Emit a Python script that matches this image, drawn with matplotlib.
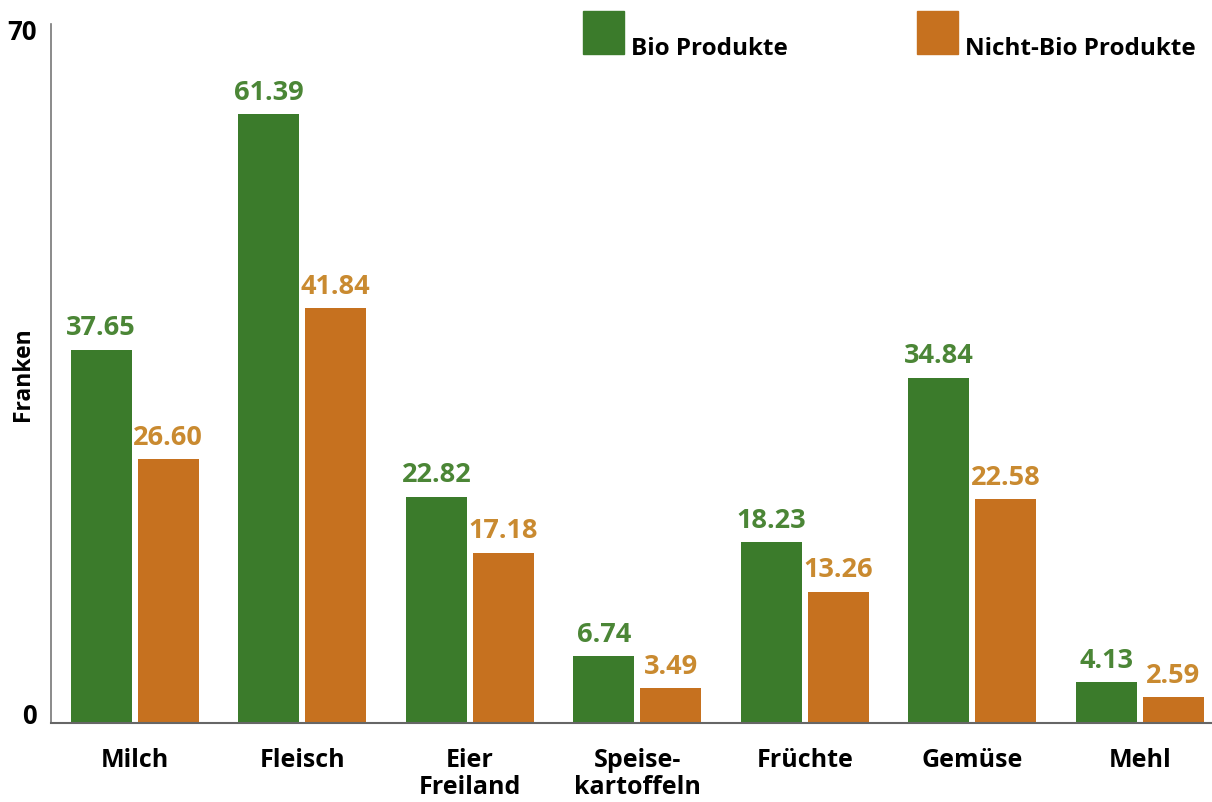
import numpy as np
import matplotlib.pyplot as plt
from matplotlib.patches import Rectangle
from matplotlib.transforms import ScaledTranslation

categories = ["Milch", "Fleisch", "Eier\nFreiland", "Speise-\nkartoffeln",
              "Früchte", "Gemüse", "Mehl"]
bio = [37.65, 61.39, 22.82, 6.74, 18.23, 34.84, 4.13]
nicht_bio = [26.60, 41.84, 17.18, 3.49, 13.26, 22.58, 2.59]
bio_labels = ["37.65", "61.39", "22.82", "6.74", "18.23", "34.84", "4.13"]
nicht_bio_labels = ["26.60", "41.84", "17.18", "3.49", "13.26", "22.58", "2.59"]
series_names = ["Bio Produkte", "Nicht-Bio Produkte"]

green = "#3b7b2b"
orange = "#c6711f"
green_text = "#4b8636"
orange_text = "#c98a30"

plt.rcParams["font.family"] = ["Open Sans", "DejaVu Sans"]

W, H = 1212, 803
fig = plt.figure(figsize=(W / 100, H / 100), dpi=100)
ax = fig.add_axes([51 / W, 79 / H, 1 - 51 / W, 699 / H])

x = np.arange(len(categories))
width = 0.364
offset = 0.2

ax.bar(x - offset, bio, width, color=green)
ax.bar(x + offset, nicht_bio, width, color=orange)

for xi, v, lab in zip(x, bio, bio_labels):
    ax.annotate(lab, (xi - offset, v), xytext=(0, 11), textcoords="offset points",
                ha="center", va="baseline", color=green_text,
                fontsize=19.5, fontweight="bold")
for xi, v, lab in zip(x, nicht_bio, nicht_bio_labels):
    ax.annotate(lab, (xi + offset, v), xytext=(0, 11), textcoords="offset points",
                ha="center", va="baseline", color=orange_text,
                fontsize=19.5, fontweight="bold")

ax.set_xlim(-0.5, 6.43)
ax.set_ylim(0, 70.5)

ax.set_xticks(x)
ax.set_xticklabels(categories, fontsize=18, fontweight="bold", linespacing=1.15)
ax.set_yticks([0, 70])
ax.set_yticklabels(["0", "70"], fontsize=18.5, fontweight="bold")
ax.tick_params(axis="both", length=0)
ax.tick_params(axis="x", pad=17)
ax.tick_params(axis="y", pad=10)
# the zero label sits a little above the axis line
zero_lab = ax.get_yticklabels()[0]
zero_lab.set_transform(zero_lab.get_transform() + ScaledTranslation(0, 10 / 100, fig.dpi_scale_trans))

for side in ["top", "right"]:
    ax.spines[side].set_visible(False)
ax.spines["left"].set_color("#777777")
ax.spines["left"].set_linewidth(1.2)
ax.spines["bottom"].set_color("#666666")
ax.spines["bottom"].set_linewidth(1.5)

ax.set_ylabel("Franken", fontsize=16.5, fontweight="bold")
ax.yaxis.set_label_coords(-16 / 1161, 0.5)

# legend drawn by hand at the top right
legend_items = [(583, green, series_names[0]), (917, orange, series_names[1])]
for px, col, name in legend_items:
    fig.patches.append(Rectangle((px / W, (H - 55) / H), 41 / W, 43 / H,
                                 transform=fig.transFigure, color=col))
    fig.text((px + 48) / W, (H - 55) / H, name, fontsize=17.5,
             fontweight="bold", ha="left", va="baseline")

fig.savefig("out.png", dpi=100)
